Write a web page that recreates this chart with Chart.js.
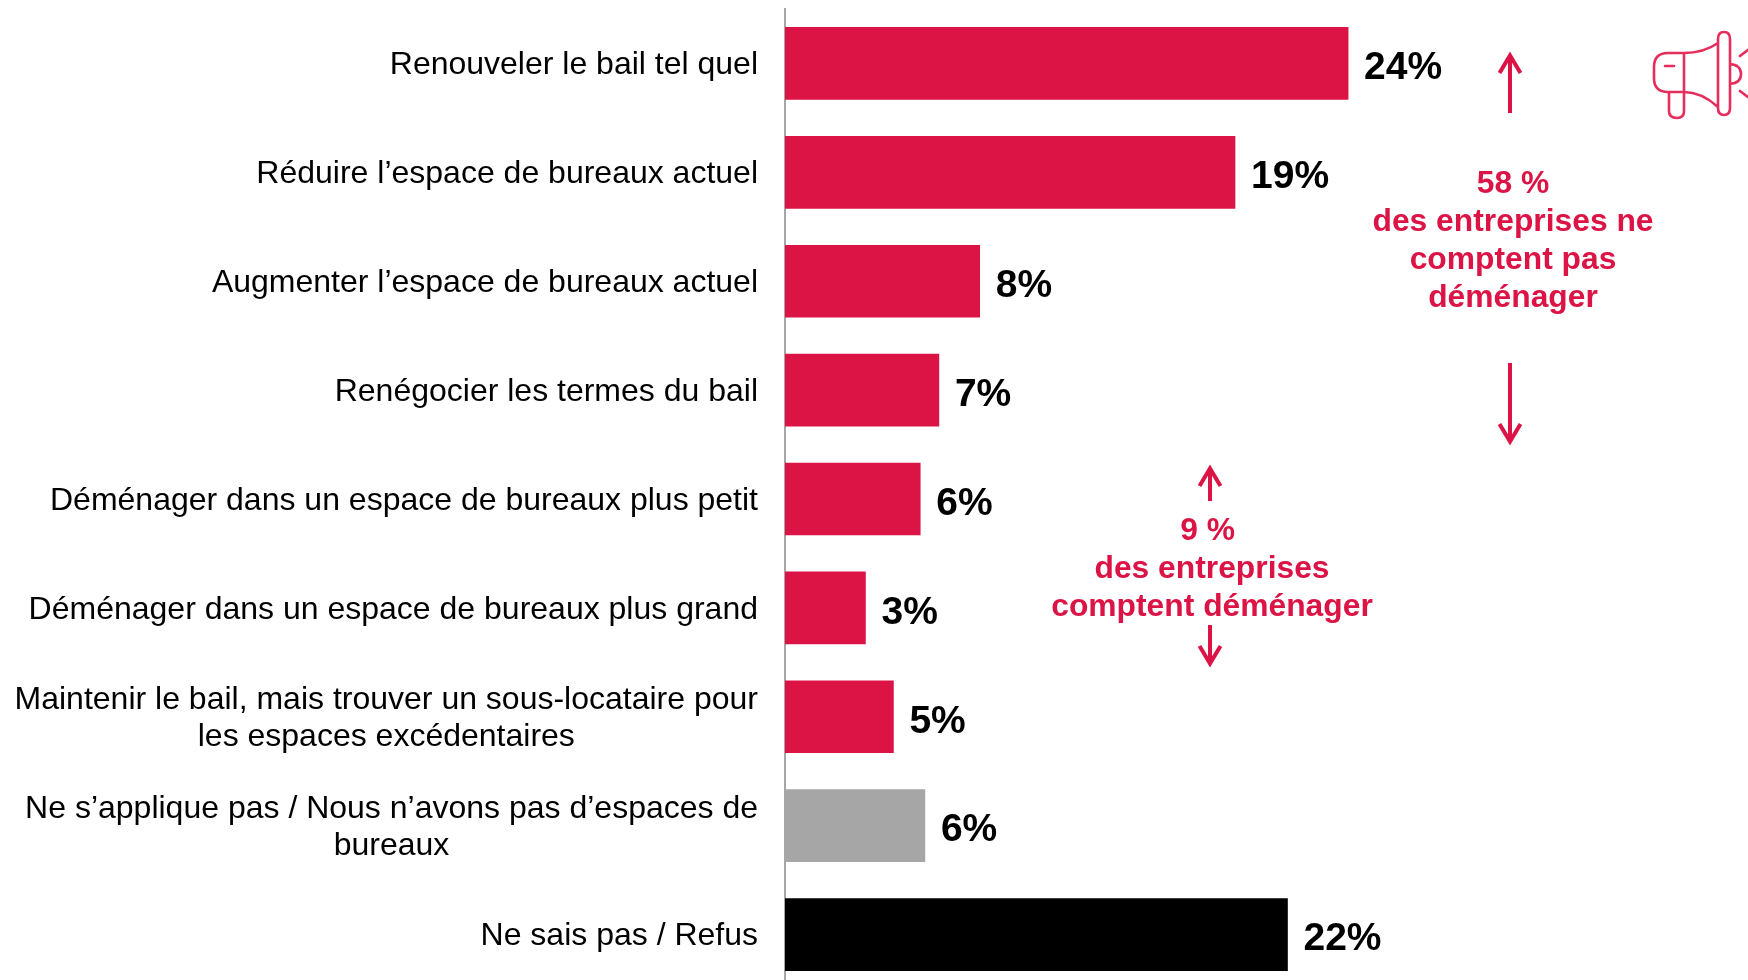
<!DOCTYPE html>
<html lang="fr">
<head>
<meta charset="utf-8">
<title>Intentions des entreprises</title>
<script src="https://cdn.jsdelivr.net/npm/chart.js@4"></script>
<style>
    html, body { margin: 0; padding: 0; background: #fff; width: 1748px; height: 980px; overflow: hidden; }
    #wrap { width: 1748px; height: 990px; }
</style>
</head>
<body>
<div id="wrap"><canvas id="leaseChart"></canvas></div>
<script>
const categories = [
    ["Renouveler le bail tel quel"],
    ["Réduire l’espace de bureaux actuel"],
    ["Augmenter l’espace de bureaux actuel"],
    ["Renégocier les termes du bail"],
    ["Déménager dans un espace de bureaux plus petit"],
    ["Déménager dans un espace de bureaux plus grand"],
    ["Maintenir le bail, mais trouver un sous-locataire pour", "les espaces excédentaires"],
    ["Ne s’applique pas / Nous n’avons pas d’espaces de", "bureaux"],
    ["Ne sais pas / Refus"]
];
const values = [24.15, 19.3, 8.35, 6.6, 5.8, 3.45, 4.65, 6.0, 21.55];
const valueLabels = ["24%", "19%", "8%", "7%", "6%", "3%", "5%", "6%", "22%"];
const barColors = ["#DC1446", "#DC1446", "#DC1446", "#DC1446", "#DC1446", "#DC1446", "#DC1446", "#A6A6A6", "#000000"];
const stayNote = ["58 %", "des entreprises ne", "comptent pas", "déménager"];
const moveNote = ["9 % ", "des entreprises", "comptent déménager"];

const FONT = '"Liberation Sans", Arial, sans-serif';
const RED = "#DC1446";

function drawArrow(c, x, fromY, toY) {
    const dir = toY > fromY ? -1 : 1;
    c.save();
    c.strokeStyle = RED;
    c.lineWidth = 4;
    c.beginPath();
    c.moveTo(x, fromY);
    c.lineTo(x, toY + dir * 3.5);
    c.stroke();
    c.beginPath();
    c.moveTo(x - 10.5, toY + dir * 21);
    c.lineTo(x, toY + dir * 3.5);
    c.lineTo(x + 10.5, toY + dir * 21);
    c.stroke();
    c.restore();
}

function drawNote(c, lines, x, firstBaseline) {
    c.fillStyle = RED;
    c.font = "bold 31.8px " + FONT;
    c.textAlign = "center";
    c.textBaseline = "alphabetic";
    lines.forEach((line, i) => c.fillText(line, x, firstBaseline + i * 38));
}

function drawMegaphone(c) {
    c.save();
    c.strokeStyle = "#E62E5C";
    c.lineWidth = 2.6;
    c.lineCap = "round";
    c.lineJoin = "round";
    c.beginPath();
    // horn and body
    c.moveTo(1718, 43);
    c.bezierCurveTo(1708, 50, 1698, 53, 1684, 53);
    c.lineTo(1668, 53);
    c.quadraticCurveTo(1654, 53, 1654, 67);
    c.lineTo(1654, 78);
    c.quadraticCurveTo(1654, 92, 1668, 92);
    c.lineTo(1684, 92);
    c.bezierCurveTo(1698, 92, 1708, 98, 1718, 107);
    c.moveTo(1684, 53);
    c.lineTo(1684, 111);
    c.quadraticCurveTo(1684, 118, 1677, 118);
    c.quadraticCurveTo(1669, 118, 1669, 111);
    c.lineTo(1669, 92);
    // capsule
    c.moveTo(1718, 39);
    c.quadraticCurveTo(1718, 32, 1724, 32);
    c.quadraticCurveTo(1730, 32, 1730, 39);
    c.lineTo(1730, 108);
    c.quadraticCurveTo(1730, 115, 1724, 115);
    c.quadraticCurveTo(1718, 115, 1718, 108);
    c.closePath();
    // speaker bump, dash and rays
    c.moveTo(1730, 64);
    c.quadraticCurveTo(1741, 65, 1741, 74);
    c.quadraticCurveTo(1741, 83, 1730, 84);
    c.moveTo(1665, 66);
    c.lineTo(1674, 66);
    c.moveTo(1740, 56);
    c.lineTo(1749, 49);
    c.moveTo(1740, 91);
    c.lineTo(1749, 98);
    c.stroke();
    c.restore();
}

const labelsPlugin = {
    id: "labelsPlugin",
    afterDraw(chart) {
        const c = chart.ctx;
        const x = chart.scales.x;
        const y = chart.scales.y;
        c.save();
        // category labels, the lines of one label centred on each other
        c.fillStyle = "#000";
        c.font = "32px " + FONT;
        c.textAlign = "center";
        c.textBaseline = "middle";
        categories.forEach((lines, i) => {
            const widest = Math.max(...lines.map(l => c.measureText(l).width));
            const mid = y.getPixelForValue(i) + 2;
            lines.forEach((line, j) => {
                c.fillText(line, 758 - widest / 2, mid + (j - (lines.length - 1) / 2) * 37.4);
            });
        });
        // value labels
        c.font = "bold 39px " + FONT;
        c.textAlign = "left";
        valueLabels.forEach((label, i) => {
            c.fillText(label, x.getPixelForValue(values[i]) + 16, y.getPixelForValue(i) + 5);
        });
        drawNote(c, stayNote, 1513, 193);
        drawNote(c, moveNote, 1212, 539.5);
        drawArrow(c, 1510, 113, 52);
        drawArrow(c, 1510, 363, 445);
        drawArrow(c, 1210, 501, 465);
        drawArrow(c, 1210, 625, 667);
        drawMegaphone(c);
        c.restore();
    }
};

const ctx = document.getElementById("leaseChart");
const leaseChart = new Chart(ctx, {
    type: "bar",
    data: {
        labels: categories,
        datasets: [{
            data: values,
            backgroundColor: barColors,
            barThickness: 72
        }]
    },
    options: {
        indexAxis: "y",
        responsive: true,
        maintainAspectRatio: false,
        animation: false,
        layout: { padding: { left: 785, top: 9, right: 0, bottom: 1 } },
        plugins: {
            legend: { display: false },
            tooltip: { enabled: false }
        },
        scales: {
            x: { display: false, min: 0, max: 41.3 },
            y: {
                afterFit(scale) { scale.width = 0; },
                ticks: { display: false },
                grid: { display: false },
                border: { display: true, color: "#A6A6A6", width: 2 }
            }
        }
    },
    plugins: [labelsPlugin]
});
</script>
</body>
</html>
